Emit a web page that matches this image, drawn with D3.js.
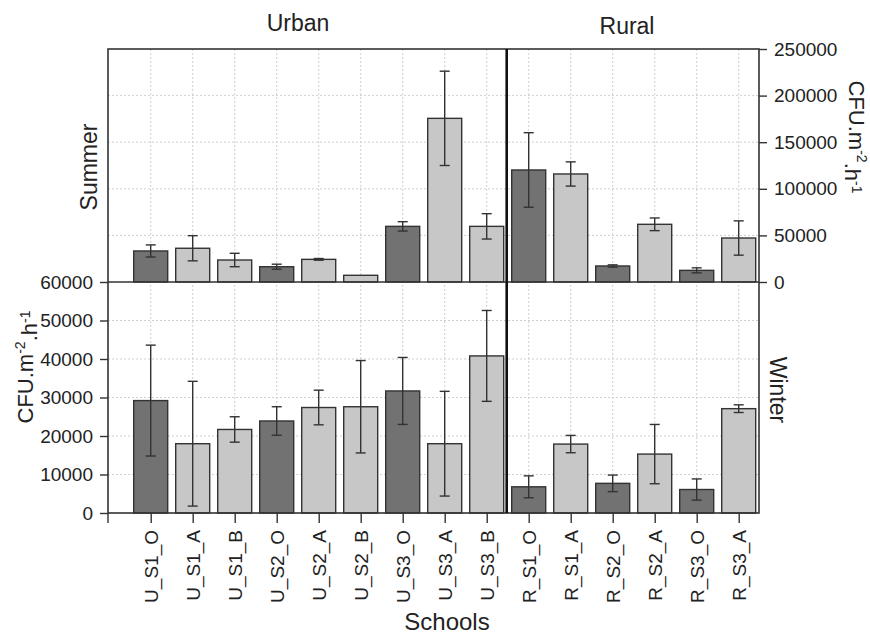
<!DOCTYPE html>
<html>
<head>
<meta charset="utf-8">
<script src="https://cdn.jsdelivr.net/npm/d3@7"></script>
<style>
  body { margin: 0; background: #fff; }
  text { font-family: "Liberation Sans", Arial, sans-serif; fill: #222; }
</style>
</head>
<body>
<div id="chart"></div>
<script>
// Schools and bar values
var schools = ["U_S1_O", "U_S1_A", "U_S1_B", "U_S2_O", "U_S2_A", "U_S2_B", "U_S3_O", "U_S3_A", "U_S3_B",
               "R_S1_O", "R_S1_A", "R_S2_O", "R_S2_A", "R_S3_O", "R_S3_A"];
var summerMean = [33300, 36200, 23600, 16400, 24300, 7200, 59700, 175600, 59700,
                  120200, 115900, 17200, 61900, 12500, 47200];
var summerErr = [6500, 13500, 7200, 2700, 900, 0, 5000, 50600, 13600,
                 40000, 13000, 1200, 6800, 2700, 18400];
var winterMean = [29200, 18000, 21700, 23900, 27400, 27600, 31700, 18000, 40800,
                  6800, 17900, 7700, 15300, 6100, 27100];
var winterErr = [14400, 16200, 3300, 3700, 4500, 12000, 8700, 13600, 11800,
                 2850, 2250, 2150, 7700, 2750, 1000];
var summerTicks = [0, 50000, 100000, 150000, 200000, 250000];
var winterTicks = [0, 10000, 20000, 30000, 40000, 50000, 60000];

var svgWidth = 870;
var svgHeight = 634;

// frame of the plot area
var frameLeft = 108, frameRight = 759, frameTop = 49, frameMid = 282, frameBottom = 513;
var barWidth = 34;

var svg = d3.select("#chart")
    .append("svg")
    .attr("width", svgWidth)
    .attr("height", svgHeight);

var x = d3.scalePoint()
    .domain(schools)
    .range([150.7, 738.7]);

var ySummer = d3.scaleLinear()
    .domain([0, 250000])
    .range([frameMid, frameTop]);

var yWinter = d3.scaleLinear()
    .domain([0, 60000])
    .range([frameBottom, frameMid]);

// build rows for each panel
var summerRows = schools.map((s, i) => ({ school: s, mean: summerMean[i], err: summerErr[i] }));
var winterRows = schools.map((s, i) => ({ school: s, mean: winterMean[i], err: winterErr[i] }));

var gridColor = "#cfcfcf";

// dotted grid lines
var grid = svg.append("g");
grid.selectAll(".vgrid")
    .data(schools)
    .enter().append("line")
    .attr("x1", d => x(d)).attr("x2", d => x(d))
    .attr("y1", frameTop).attr("y2", frameBottom)
    .attr("stroke", gridColor)
    .attr("stroke-dasharray", "2,2");

grid.selectAll(".hs")
    .data(summerTicks.slice(1, -1))
    .enter().append("line")
    .attr("x1", frameLeft).attr("x2", frameRight)
    .attr("y1", d => ySummer(d)).attr("y2", d => ySummer(d))
    .attr("stroke", gridColor)
    .attr("stroke-dasharray", "2,2");

grid.selectAll(".hw")
    .data(winterTicks.slice(1, -1))
    .enter().append("line")
    .attr("x1", frameLeft).attr("x2", frameRight)
    .attr("y1", d => yWinter(d)).attr("y2", d => yWinter(d))
    .attr("stroke", gridColor)
    .attr("stroke-dasharray", "2,2");

function barFill(s) {
    return s.endsWith("_O") ? "#727272" : "#c7c7c7";
}

function drawPanel(rows, y) {
    var g = svg.append("g");
    g.selectAll("rect")
        .data(rows)
        .enter().append("rect")
        .attr("x", d => x(d.school) - barWidth / 2)
        .attr("width", barWidth)
        .attr("y", d => y(d.mean))
        .attr("height", d => y(0) - y(d.mean))
        .attr("fill", d => barFill(d.school))
        .attr("stroke", "#333")
        .attr("stroke-width", 1.4);

    var err = g.selectAll(".err")
        .data(rows.filter(d => d.err > 0))
        .enter().append("g")
        .attr("stroke", "#333")
        .attr("stroke-width", 1.4);
    err.append("line")
        .attr("x1", d => x(d.school)).attr("x2", d => x(d.school))
        .attr("y1", d => y(d.mean - d.err)).attr("y2", d => y(d.mean + d.err));
    err.append("line")
        .attr("x1", d => x(d.school) - 5).attr("x2", d => x(d.school) + 5)
        .attr("y1", d => y(d.mean + d.err)).attr("y2", d => y(d.mean + d.err));
    err.append("line")
        .attr("x1", d => x(d.school) - 5).attr("x2", d => x(d.school) + 5)
        .attr("y1", d => y(d.mean - d.err)).attr("y2", d => y(d.mean - d.err));
}

drawPanel(summerRows, ySummer);
drawPanel(winterRows, yWinter);

// axes
function styleAxis(g) {
    g.select(".domain").remove();
    g.selectAll("line").attr("stroke", "#333").attr("stroke-width", 1.4);
    g.selectAll("text").attr("font-size", "19px").attr("fill", "#222")
        .attr("font-family", "'Liberation Sans', Arial, sans-serif");
}

svg.append("g")
    .attr("transform", `translate(${frameRight},0)`)
    .call(d3.axisRight(ySummer).tickValues(summerTicks).tickSize(8).tickPadding(7).tickFormat(d3.format("d")))
    .call(styleAxis);

svg.append("g")
    .attr("transform", `translate(${frameLeft},0)`)
    .call(d3.axisLeft(yWinter).tickValues(winterTicks).tickSize(8).tickPadding(7).tickFormat(d3.format("d")))
    .call(styleAxis);

var xAxis = svg.append("g")
    .attr("transform", `translate(0,${frameBottom})`)
    .call(d3.axisBottom(x).tickSize(10).tickPadding(0))
    .call(styleAxis);
xAxis.selectAll("text")
    .attr("transform", "rotate(-90)")
    .attr("text-anchor", "end")
    .attr("dy", "0.35em")
    .attr("x", -17)
    .attr("y", 0);

// extra tick at the left corner
svg.append("line")
    .attr("x1", frameLeft).attr("x2", frameLeft)
    .attr("y1", frameBottom).attr("y2", frameBottom + 10)
    .attr("stroke", "#333").attr("stroke-width", 1.4);

// frame
var frame = svg.append("g").attr("stroke", "#333").attr("stroke-width", 1.6).attr("fill", "none");
frame.append("rect")
    .attr("x", frameLeft).attr("y", frameTop)
    .attr("width", frameRight - frameLeft).attr("height", frameBottom - frameTop);
frame.append("line")
    .attr("x1", frameLeft).attr("x2", frameRight)
    .attr("y1", frameMid).attr("y2", frameMid);

// divider between urban and rural
var divX = (x("U_S3_B") + x("R_S1_O")) / 2 - 1;
svg.append("line")
    .attr("x1", divX).attr("x2", divX)
    .attr("y1", frameTop).attr("y2", frameBottom)
    .attr("stroke", "#111")
    .attr("stroke-width", 2.6);

// titles
svg.append("text")
    .attr("x", 298).attr("y", 31)
    .attr("text-anchor", "middle")
    .attr("font-size", "23px")
    .text("Urban");
svg.append("text")
    .attr("x", 627).attr("y", 34)
    .attr("text-anchor", "middle")
    .attr("font-size", "23px")
    .text("Rural");

svg.append("text")
    .attr("transform", `translate(97,167) rotate(-90)`)
    .attr("text-anchor", "middle")
    .attr("font-size", "23px")
    .text("Summer");

svg.append("text")
    .attr("transform", `translate(770,390) rotate(90)`)
    .attr("text-anchor", "middle")
    .attr("font-size", "23px")
    .text("Winter");

svg.append("text")
    .attr("x", 447).attr("y", 630)
    .attr("text-anchor", "middle")
    .attr("font-size", "24px")
    .text("Schools");

// unit labels with superscripts
function unitLabel(tx, ty, angle) {
    var t = svg.append("text")
        .attr("transform", `translate(${tx},${ty}) rotate(${angle})`)
        .attr("text-anchor", "middle")
        .attr("font-size", "22px");
    t.append("tspan").text("CFU.m");
    t.append("tspan").attr("dy", "-0.55em").attr("font-size", "14px").text("-2");
    t.append("tspan").attr("dy", "0.55em").text(".h");
    t.append("tspan").attr("dy", "-0.55em").attr("font-size", "14px").text("-1");
}
unitLabel(33, 367, -90);
unitLabel(849, 137, 90);
</script>
</body>
</html>
